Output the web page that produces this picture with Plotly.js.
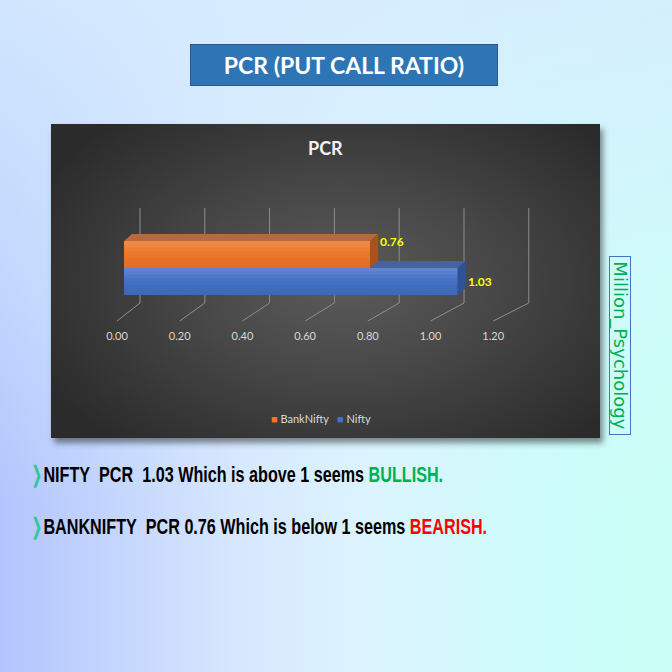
<!DOCTYPE html>
<html>
<head>
<meta charset="utf-8">
<script src="https://cdn.plot.ly/plotly-3.0.1.min.js"></script>
<style>
  html, body { margin:0; padding:0; width:672px; height:672px; overflow:hidden; }
  #bg { position:absolute; left:0; top:0; width:672px; height:672px;
        background: linear-gradient(to right, #b3c5fd 0%, #d6e7fe 35%, #dcf4fe 55%, #cdfcfb 80%, #c9fff5 100%); }
  #bgTop { position:absolute; left:0; top:0; width:672px; height:672px;
        background: linear-gradient(to bottom, rgba(214,236,254,0.85) 0%, rgba(214,244,254,0.35) 45%, rgba(214,244,254,0) 75%); }
  #panel { position:absolute; left:51px; top:124px; width:549px; height:314px;
        background: radial-gradient(ellipse 62% 68% at 53% 50%, #5b5b5b 0%, #474747 45%, #2b2b2b 100%);
        box-shadow: 3px 5px 6px rgba(0,0,0,0.45); }
  #chart { position:absolute; left:0; top:0; width:672px; height:672px; }
</style>
</head>
<body>
<div id="bg"></div>
<div id="bgTop"></div>
<div id="panel"></div>
<div id="chart"></div>
<script>
// ---------- data ----------
const categories = ['PCR'];
const seriesNames = ['Nifty', 'BankNifty'];
const niftyValues = [1.03];
const bankNiftyValues = [0.76];
const tickValues = [0, 0.2, 0.4, 0.6, 0.8, 1.0, 1.2];
const tickLabels = ['0.00', '0.20', '0.40', '0.60', '0.80', '1.00', '1.20'];

// ---------- geometry helpers (pixels -> paper) ----------
const W = 672, H = 672;
const X = p => p / W;
const Y = p => 1 - p / H;

// bar axis scale: value 0 at px 124, 324 px per unit
const B0 = 124, BS = 324;
// category axis: centre at px 268, 108 px per unit
const C0 = 268, CS = 108;
// tick label (front floor) scale
const L0 = 117, LS = 313.5;

const xRange = [-B0 / BS, (W - B0) / BS];
const yRange = [-(H - C0) / CS, C0 / CS];
const labRange = [-L0 / LS, (W - L0) / LS];

const DX = 8 / BS, DY = 7 / CS;       // 3-D depth
const HALF = 0.25;                     // each bar occupies 0.25 category units
const py2u = p => (C0 - p) / CS;       // pixel y -> category units

const colors = {
  nifty: { front: '#4370c4', top: '#46639f', side: '#2f519a' },
  bank:  { front: '#ee7629', top: '#b8693c', side: '#a8531d' }
};

// ---------- gridlines (3-D walls/floor) ----------
const gx = [], gy = [];
tickValues.forEach(v => {
  const back = v + 16 / BS;
  const front = (L0 + LS * v - B0) / BS;
  gx.push(back, back, front, null);
  gy.push(py2u(208), py2u(303), py2u(321), null);
});

function topFace(v, yTop) {
  return { x: [0, v, v + DX, DX, 0], y: [yTop, yTop, yTop + DY, yTop + DY, yTop] };
}
function sideFace(v, yBot, yTop) {
  return { x: [v, v + DX, v + DX, v, v], y: [yTop, yTop + DY, yBot + DY, yBot, yTop] };
}
function faceTrace(poly, color, xa, ya) {
  return Object.assign({ type: 'scatter', mode: 'lines', fill: 'toself', fillcolor: color,
    line: { width: 0, color: color }, hoverinfo: 'skip', showlegend: false, xaxis: xa, yaxis: ya }, poly);
}
// soft vertical shading bands over a bar's front face
function shading(v, yBot, yTop, xa, ya) {
  const out = [];
  const n = 8;
  for (let i = 0; i < n; i++) {
    const t0 = yBot + (yTop - yBot) * i / n, t1 = yBot + (yTop - yBot) * (i + 1) / n;
    const k = (i + 0.5) / n; // 0 bottom .. 1 top
    const col = k > 0.5 ? 'rgba(255,255,255,' + ((k - 0.5) * 0.32).toFixed(3) + ')'
                        : 'rgba(0,0,0,' + ((0.5 - k) * 0.14).toFixed(3) + ')';
    out.push(faceTrace({ x: [0, v, v, 0, 0], y: [t0, t0, t1, t1, t0] }, col, xa, ya));
  }
  return out;
}

const traces = [];
// gridlines on base subplot
traces.push({ type: 'scatter', mode: 'lines', x: gx, y: gy, line: { color: '#8e8e8e', width: 1 },
  hoverinfo: 'skip', showlegend: false, xaxis: 'x', yaxis: 'y' });
// tick-label axis subplot (no marks)
traces.push({ type: 'scatter', mode: 'lines', x: [], y: [], showlegend: false, hoverinfo: 'skip',
  xaxis: 'x4', yaxis: 'y' });

// Nifty (lower bar) on x2/y2
const nv = niftyValues[0];
traces.push({ type: 'bar', orientation: 'h', name: seriesNames[0], x: niftyValues, y: [0],
  base: 0, offset: -HALF, width: HALF, marker: { color: colors.nifty.front, line: { width: 0 } },
  xaxis: 'x2', yaxis: 'y2', hoverinfo: 'skip', showlegend: false });
traces.push(faceTrace(topFace(nv, 0), colors.nifty.top, 'x2', 'y2'));
traces.push(faceTrace(sideFace(nv, -HALF, 0), colors.nifty.side, 'x2', 'y2'));
traces.push(...shading(nv, -HALF, 0, 'x2', 'y2'));

// BankNifty (upper bar) on x3/y3
const bv = bankNiftyValues[0];
traces.push({ type: 'bar', orientation: 'h', name: seriesNames[1], x: bankNiftyValues, y: [0],
  base: 0, offset: 0, width: HALF, marker: { color: colors.bank.front, line: { width: 0 } },
  xaxis: 'x3', yaxis: 'y3', hoverinfo: 'skip', showlegend: false });
traces.push(faceTrace(topFace(bv, HALF), colors.bank.top, 'x3', 'y3'));
traces.push(faceTrace(sideFace(bv, 0, HALF), colors.bank.side, 'x3', 'y3'));
traces.push(...shading(bv, 0, HALF, 'x3', 'y3'));

const hidden = { showgrid: false, zeroline: false, showline: false, showticklabels: false, ticks: '', fixedrange: true };

const chartFont = 'Lato, "Open Sans", sans-serif';
const lineFont = '"Liberation Sans", Arial, sans-serif';

const legendText = '<span style="color:' + colors.bank.front + '">■</span>\u00a0' + seriesNames[1] +
  '\u00a0\u00a0\u00a0<span style="color:' + colors.nifty.front + '">■</span>\u00a0' + seriesNames[0];

const layout = {
  width: W, height: H,
  margin: { l: 0, r: 0, t: 0, b: 0, pad: 0 },
  paper_bgcolor: 'rgba(0,0,0,0)', plot_bgcolor: 'rgba(0,0,0,0)',
  showlegend: false,
  xaxis: Object.assign({ domain: [0, 1], range: xRange, anchor: 'y' }, hidden),
  yaxis: Object.assign({ domain: [0, 1], range: yRange, anchor: 'x' }, hidden),
  xaxis2: Object.assign({ domain: [0, 1], range: xRange, anchor: 'y2', overlaying: 'x' }, hidden),
  yaxis2: Object.assign({ domain: [0, 1], range: yRange, anchor: 'x2', overlaying: 'y' }, hidden),
  xaxis3: Object.assign({ domain: [0, 1], range: xRange, anchor: 'y3', overlaying: 'x' }, hidden),
  yaxis3: Object.assign({ domain: [0, 1], range: yRange, anchor: 'x3', overlaying: 'y' }, hidden),
  xaxis4: { domain: [0, 1], range: labRange, overlaying: 'x', anchor: 'free', position: Y(328),
    tickmode: 'array', tickvals: tickValues, ticktext: tickLabels, ticks: '', showgrid: false,
    zeroline: false, showline: false, fixedrange: true,
    tickfont: { family: chartFont, size: 11, color: '#d9d9d9' } },
  annotations: [
    { xref: 'paper', yref: 'paper', x: X(344), y: Y(65), xanchor: 'center', yanchor: 'middle',
      text: 'PCR (PUT CALL RATIO)', showarrow: false, width: 306, height: 40,
      bgcolor: '#2e75b6', bordercolor: '#2f5597', borderwidth: 1, borderpad: 0,
      font: { family: chartFont, size: 23, color: '#ffffff', weight: 700 } },
    { xref: 'paper', yref: 'paper', x: X(325), y: Y(148), xanchor: 'center', yanchor: 'middle',
      text: 'PCR', showarrow: false,
      font: { family: chartFont, size: 18, color: '#f2f2f2', weight: 700 } },
    { xref: 'x2', yref: 'y2', x: nv, y: -HALF / 2, xanchor: 'left', yanchor: 'middle', xshift: 8,
      text: nv.toFixed(2), showarrow: false, font: { family: chartFont, size: 12, color: '#ffff00', weight: 700 } },
    { xref: 'x3', yref: 'y3', x: bv, y: HALF, xanchor: 'left', yanchor: 'middle', xshift: 8,
      text: bv.toFixed(2), showarrow: false, font: { family: chartFont, size: 12, color: '#ffff00', weight: 700 } },
    { xref: 'paper', yref: 'paper', x: X(321), y: Y(418), xanchor: 'center', yanchor: 'middle',
      text: legendText, showarrow: false, font: { family: chartFont, size: 11, color: '#d9d9d9' } },
    { xref: 'paper', yref: 'paper', x: X(620), y: Y(345), xanchor: 'center', yanchor: 'middle',
      text: 'Million_Psychology', textangle: 90, showarrow: false, width: 177, height: 20,
      bordercolor: '#4472c4', borderwidth: 1, borderpad: 0,
      font: { family: '"DejaVu Sans", sans-serif', size: 18, color: '#00b050' } },
    { xref: 'paper', yref: 'paper', x: X(28), y: Y(475), xanchor: 'left', yanchor: 'middle', showarrow: false,
      text: '<span style="color:#35c4a4">❭</span>NIFTY\u00a0\u00a0PCR\u00a0\u00a01.03 Which is above\u00a01 seems <span style="color:#00b050">BULLISH.</span>',
      font: { family: lineFont, size: 22, color: '#000000', weight: 700 } },
    { xref: 'paper', yref: 'paper', x: X(28), y: Y(527), xanchor: 'left', yanchor: 'middle', showarrow: false,
      text: '<span style="color:#35c4a4">❭</span>BANKNIFTY\u00a0\u00a0PCR 0.76 Which is below 1 seems <span style="color:#ff0000">BEARISH.</span>',
      font: { family: lineFont, size: 22, color: '#000000', weight: 700 } }
  ]
};

Plotly.newPlot('chart', traces, layout, { staticPlot: true, displayModeBar: false }).then(gd => {
  // condense the two statement lines (narrow bold face as in the original)
  [6, 7].forEach(i => {
    const t = gd.querySelector('g.annotation[data-index="' + i + '"] text.annotation-text');
    if (t) {
      t.style.transformBox = 'fill-box';
      t.style.transformOrigin = 'left center';
      t.style.transform = 'scaleX(0.735)';
    }
  });
});
</script>
</body>
</html>
